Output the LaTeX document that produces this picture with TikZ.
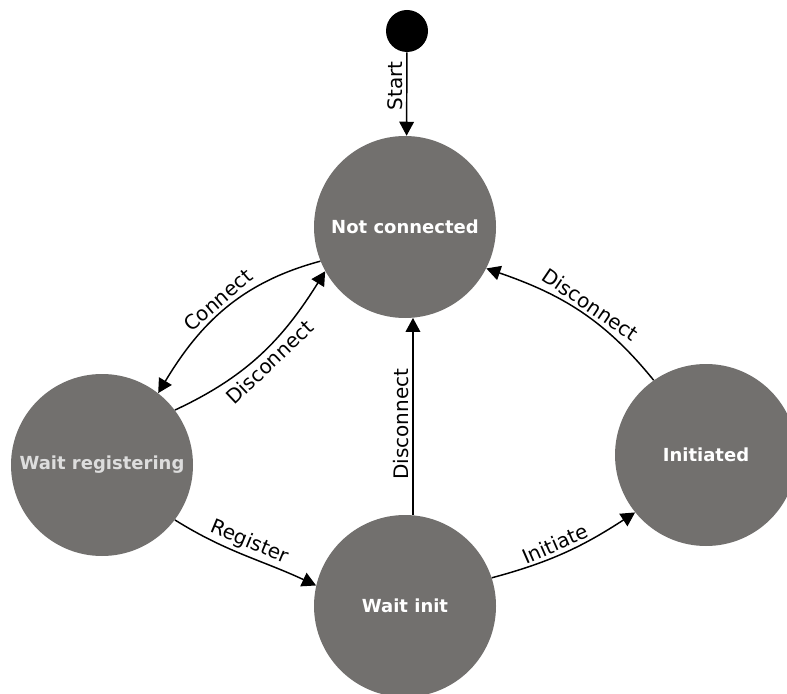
\documentclass[tikz,border=0pt]{standalone}
\usepackage{fontspec}
\setmainfont{DejaVu Sans}
\usetikzlibrary{arrows.meta,positioning}
\definecolor{stategray}{RGB}{114,112,110}
\definecolor{paletext}{RGB}{221,221,221}
\tikzset{
  statebox/.style={circle,fill=stategray,minimum size=136.5pt,inner sep=0pt,
    text=white,font=\fontsize{13.5}{16}\selectfont\bfseries},
  initdot/.style={circle,fill=black,minimum size=31.5pt,inner sep=0pt},
  arrow/.style={-{Triangle[length=10.5pt,width=11pt]},line width=1.1pt},
  lbl/.style={font=\fontsize{15}{18}\selectfont,inner sep=2.5pt},
}
\begin{document}
\begin{tikzpicture}[x=0.75pt,y=0.75pt]
  \useasboundingbox (0,0) rectangle (787,693);
  \clip (0,0) rectangle (787,693);
  \node[initdot] (start) at (407,662) {};
  \node[statebox] (nc) at (405,466) {Not connected};
  \node[statebox,text=paletext] (wr) at (102,228) {Wait registering};
  \node[statebox] (wi) at (405,87) {Wait init};
  \node[statebox] (init) at (706,238) {Initiated};
  \draw[arrow] (start) -- node[lbl,rotate=90,above,pos=0.4]{Start} (nc.89);
  \draw[arrow] (nc.202) to[out=195,in=59] node[lbl,sloped,above]{Connect} (wr.52);
  \draw[arrow] (wr.37) to[out=25,in=238] node[lbl,sloped,below]{Disconnect} (nc.209);
  \draw[arrow] (wr.323) to[out=-32,in=155] node[lbl,sloped,above]{Register} (wi.167);
  \draw[arrow] (wi.85) -- node[lbl,rotate=90,above,pos=0.46]{Disconnect} (nc.275);
  \draw[arrow] (wi.18) to[out=15,in=213] node[lbl,sloped,above,pos=0.45]{Initiate} (init.219);
  \draw[arrow] (init.125) to[out=129,in=341] node[lbl,sloped,above,pos=0.47]{Disconnect} (nc.333);
\end{tikzpicture}
\end{document}
